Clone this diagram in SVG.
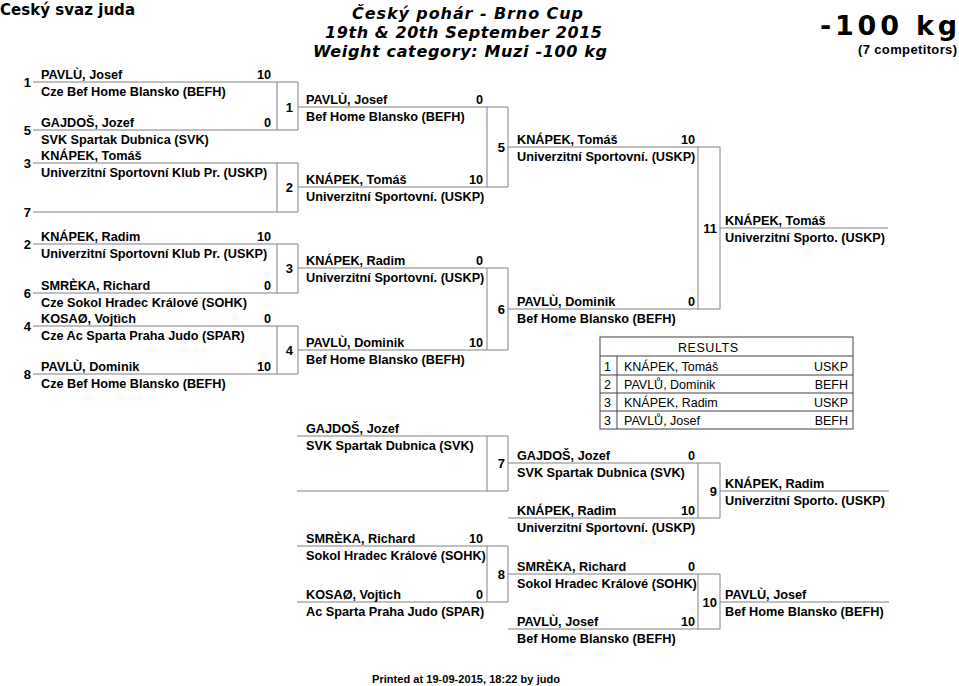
<svg xmlns="http://www.w3.org/2000/svg" width="959" height="686" viewBox="0 0 959 686">
<style>
text{font-family:"Liberation Sans",Arial,sans-serif;fill:#000}
.n{font-size:12.7px;font-weight:bold}
.s{font-size:12.7px;font-weight:bold;text-anchor:end}
.lb{font-size:13px;font-weight:bold;text-anchor:end}
.h{font-family:"DejaVu Sans",Verdana,sans-serif;font-weight:bold}
.t{font-family:"DejaVu Sans",Verdana,sans-serif;font-size:16px;font-weight:bold;font-style:italic}
.r{font-size:12.5px}
.re{font-size:12.5px;text-anchor:end}
.ln line,.ln path{stroke:#808080;stroke-width:1;fill:none}
.tb line,.tb rect{stroke:#404040;stroke-width:1;fill:none}
</style>
<rect width="959" height="686" fill="#fff"/>
<g id="header">
<text class="h" x="0" y="15" style="font-size:15px" textLength="135" lengthAdjust="spacing">Ceský svaz juda</text>
<text class="t" x="352" y="18.5" textLength="231" lengthAdjust="spacing">Český pohár - Brno Cup</text>
<text class="t" x="325" y="38" textLength="277" lengthAdjust="spacing">19th &amp; 20th September 2015</text>
<text class="t" x="313" y="57" textLength="294" lengthAdjust="spacing">Weight category: Muzi -100 kg</text>
<text class="h" x="820" y="35" style="font-size:27px" textLength="137" lengthAdjust="spacing">-100 kg</text>
<text x="858" y="54" style="font-size:13px;font-weight:bold" textLength="99" lengthAdjust="spacing">(7 competitors)</text>
</g>
<g id="connectors" class="ln">
<path d="M33 82H298M33 130H298M277 82V130M298 82V130"/>
<path d="M33 163H298M33 212H298M277 163V212M298 163V212"/>
<path d="M33 244H298M33 293H298M277 244V293M298 244V293"/>
<path d="M33 326H298M33 374H298M277 326V374M298 326V374"/>
<path d="M298 107H508M298 187H508M487 107V187M508 107V187"/>
<path d="M298 268H508M298 350H508M487 268V350M508 268V350"/>
<path d="M508 147H720M508 309H720M698 147V309M720 147V309"/>
<path d="M720 228H888"/>
<path d="M297 436H508M297 491H508M487 436V491M508 436V491"/>
<path d="M297 546H508M297 602H508M487 546V602M508 546V602"/>
<path d="M508 463H720M508 518H720M698 463V518M720 463V518"/>
<path d="M508 574H720M508 629H720M698 574V629M720 574V629"/>
<path d="M720 491H889M720 602H889"/>
</g>
<g id="m1">
<text class="lb" x="31" y="87">1</text>
<text class="n" x="41" y="79">PAVLÙ, Josef</text><text class="s" x="271" y="79">10</text>
<text class="n" x="41" y="96">Cze Bef Home Blansko (BEFH)</text>
<text class="lb" x="31" y="135">5</text>
<text class="n" x="41" y="127">GAJDOŠ, Jozef</text><text class="s" x="271" y="127">0</text>
<text class="n" x="41" y="144">SVK Spartak Dubnica (SVK)</text>
<text class="lb" x="293" y="111.5">1</text>
</g>
<g id="m2">
<text class="lb" x="31" y="168">3</text>
<text class="n" x="41" y="160">KNÁPEK, Tomáš</text>
<text class="n" x="41" y="177">Univerzitní Sportovní Klub Pr. (USKP)</text>
<text class="lb" x="31" y="217">7</text>
<text class="lb" x="293" y="192">2</text>
</g>
<g id="m3">
<text class="lb" x="31" y="249">2</text>
<text class="n" x="41" y="241">KNÁPEK, Radim</text><text class="s" x="271" y="241">10</text>
<text class="n" x="41" y="258">Univerzitní Sportovní Klub Pr. (USKP)</text>
<text class="lb" x="31" y="298">6</text>
<text class="n" x="41" y="290">SMRÈKA, Richard</text><text class="s" x="271" y="290">0</text>
<text class="n" x="41" y="307">Cze Sokol Hradec Králové (SOHK)</text>
<text class="lb" x="293" y="273">3</text>
</g>
<g id="m4">
<text class="lb" x="31" y="331">4</text>
<text class="n" x="41" y="323">KOSAØ, Vojtìch</text><text class="s" x="271" y="323">0</text>
<text class="n" x="41" y="340">Cze Ac Sparta Praha Judo (SPAR)</text>
<text class="lb" x="31" y="379">8</text>
<text class="n" x="41" y="371">PAVLÙ, Dominik</text><text class="s" x="271" y="371">10</text>
<text class="n" x="41" y="388">Cze Bef Home Blansko (BEFH)</text>
<text class="lb" x="293" y="354.5">4</text>
</g>
<g id="m5">
<text class="n" x="306" y="104">PAVLÙ, Josef</text><text class="s" x="483" y="104">0</text>
<text class="n" x="306" y="121">Bef Home Blansko (BEFH)</text>
<text class="n" x="306" y="184">KNÁPEK, Tomáš</text><text class="s" x="483" y="184">10</text>
<text class="n" x="306" y="201">Univerzitní Sportovní. (USKP)</text>
<text class="lb" x="505" y="151.5">5</text>
</g>
<g id="m6">
<text class="n" x="306" y="265">KNÁPEK, Radim</text><text class="s" x="483" y="265">0</text>
<text class="n" x="306" y="282">Univerzitní Sportovní. (USKP)</text>
<text class="n" x="306" y="347">PAVLÙ, Dominik</text><text class="s" x="483" y="347">10</text>
<text class="n" x="306" y="364">Bef Home Blansko (BEFH)</text>
<text class="lb" x="505" y="313.5">6</text>
</g>
<g id="m11">
<text class="n" x="517" y="144">KNÁPEK, Tomáš</text><text class="s" x="695" y="144">10</text>
<text class="n" x="517" y="161">Univerzitní Sportovní. (USKP)</text>
<text class="n" x="517" y="306">PAVLÙ, Dominik</text><text class="s" x="695" y="306">0</text>
<text class="n" x="517" y="323">Bef Home Blansko (BEFH)</text>
<text class="lb" x="717" y="232.5">11</text>
</g>
<g id="winner">
<text class="n" x="725" y="225">KNÁPEK, Tomáš</text>
<text class="n" x="725" y="242">Univerzitní Sporto. (USKP)</text>
</g>
<g id="m7">
<text class="n" x="306" y="433">GAJDOŠ, Jozef</text>
<text class="n" x="306" y="450">SVK Spartak Dubnica (SVK)</text>
<text class="lb" x="505" y="468">7</text>
</g>
<g id="m8">
<text class="n" x="306" y="543">SMRÈKA, Richard</text><text class="s" x="483" y="543">10</text>
<text class="n" x="306" y="560">Sokol Hradec Králové (SOHK)</text>
<text class="n" x="306" y="599">KOSAØ, Vojtìch</text><text class="s" x="483" y="599">0</text>
<text class="n" x="306" y="616">Ac Sparta Praha Judo (SPAR)</text>
<text class="lb" x="505" y="578.5">8</text>
</g>
<g id="m9">
<text class="n" x="517" y="460">GAJDOŠ, Jozef</text><text class="s" x="695" y="460">0</text>
<text class="n" x="517" y="477">SVK Spartak Dubnica (SVK)</text>
<text class="n" x="517" y="515">KNÁPEK, Radim</text><text class="s" x="695" y="515">10</text>
<text class="n" x="517" y="532">Univerzitní Sportovní. (USKP)</text>
<text class="lb" x="717" y="495.5">9</text>
<text class="n" x="725" y="488">KNÁPEK, Radim</text>
<text class="n" x="725" y="505">Univerzitní Sporto. (USKP)</text>
</g>
<g id="m10">
<text class="n" x="517" y="571">SMRÈKA, Richard</text><text class="s" x="695" y="571">0</text>
<text class="n" x="517" y="588">Sokol Hradec Králové (SOHK)</text>
<text class="n" x="517" y="626">PAVLÙ, Josef</text><text class="s" x="695" y="626">10</text>
<text class="n" x="517" y="643">Bef Home Blansko (BEFH)</text>
<text class="lb" x="717" y="606.5">10</text>
<text class="n" x="725" y="599">PAVLÙ, Josef</text>
<text class="n" x="725" y="616">Bef Home Blansko (BEFH)</text>
</g>
<g id="results" class="tb">
<rect x="600" y="337" width="253" height="92"/>
<line x1="600" y1="356" x2="853" y2="356"/>
<line x1="600" y1="375" x2="853" y2="375"/>
<line x1="600" y1="393" x2="853" y2="393"/>
<line x1="600" y1="411" x2="853" y2="411"/>
<line x1="617" y1="356" x2="617" y2="429"/>
<text class="r" x="678" y="352" textLength="60" lengthAdjust="spacing">RESULTS</text>
<text class="r" x="604" y="371">1</text><text class="r" x="624" y="371">KNÁPEK, Tomáš</text><text class="re" x="848" y="371">USKP</text>
<text class="r" x="604" y="389">2</text><text class="r" x="624" y="389">PAVLŮ, Dominik</text><text class="re" x="848" y="389">BEFH</text>
<text class="r" x="604" y="407">3</text><text class="r" x="624" y="407">KNÁPEK, Radim</text><text class="re" x="848" y="407">USKP</text>
<text class="r" x="604" y="425">3</text><text class="r" x="624" y="425">PAVLŮ, Josef</text><text class="re" x="848" y="425">BEFH</text>
</g>
<g id="footer">
<text x="372" y="683" style="font-size:11px;font-weight:bold" textLength="188" lengthAdjust="spacing">Printed at 19-09-2015, 18:22 by judo</text>
</g>
</svg>
